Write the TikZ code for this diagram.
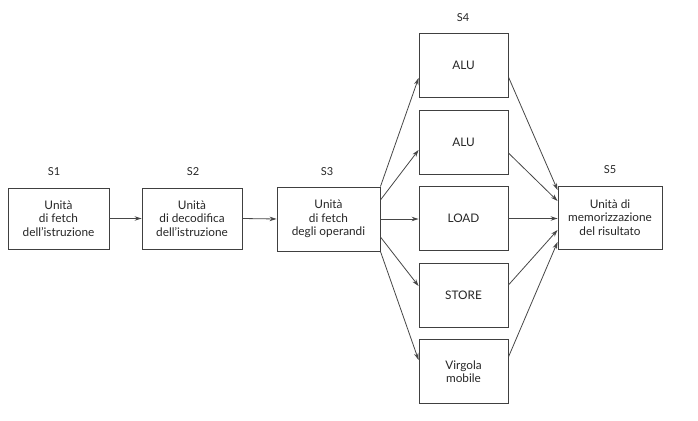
\documentclass[tikz,border=0pt]{standalone}
\usepackage{fontspec}
\setmainfont{Lato}
\usetikzlibrary{arrows.meta}
\begin{document}
\begin{tikzpicture}[x=1pt,y=-1pt,
  box/.style={draw=black!75,line width=0.9pt,rectangle,align=center,font=\fontsize{11.8}{13.5}\selectfont,text=black!85,inner sep=0pt},
  stage/.style={font=\fontsize{11}{12}\selectfont,text=black!85},
  conn/.style={draw=black!72,line width=0.8pt,-{Stealth[length=7pt,width=4.5pt]}}]
\useasboundingbox (0,0) rectangle (698,420);
% stage 1-3
\node[box,minimum width=101pt,minimum height=61pt] (s1) at (58.5,218.5) {Unità\\di fetch\\dell'istruzione};
\node[box,minimum width=100pt,minimum height=61pt] (s2) at (192,218.5) {Unità\\di decodifica\\dell'istruzione};
\node[box,minimum width=103pt,minimum height=64pt] (s3) at (328.5,219) {Unità\\di fetch\\degli operandi};
% stage 4
\node[box,minimum width=89pt,minimum height=64pt] (alu1) at (463.5,65) {ALU};
\node[box,minimum width=89pt,minimum height=64pt] (alu2) at (463.5,142) {ALU};
\node[box,minimum width=89pt,minimum height=64pt] (load) at (463.5,218.5) {LOAD};
\node[box,minimum width=89pt,minimum height=64pt] (store) at (463.5,295.5) {STORE};
\node[box,minimum width=89pt,minimum height=64pt] (virg) at (463.5,371.5) {Virgola\\mobile};
% stage 5
\node[box,minimum width=104pt,minimum height=63pt] (s5) at (610,217.5) {Unità di\\memorizzazione\\del risultato};
% labels
\node[stage] (l1) at (54,172) {S1};
\node[stage] (l2) at (193,172) {S2};
\node[stage] (l3) at (327,172) {S3};
\node[stage] (l4) at (463,18) {S4};
\node[stage] (l5) at (610,170) {S5};
% connectors
\draw[conn] (s1.east) -- (s2.west);
\draw[conn] (s2.east) -- (s3.west);
\draw[conn] (s3.north east) -- ([yshift=-13pt]alu1.west);
\draw[conn] ([yshift=19pt]s3.east) -- ([yshift=-8pt]alu2.west);
\draw[conn] (s3.east) -- (s3.east -| load.west);
\draw[conn] ([yshift=-18pt]s3.east) -- ([yshift=9.5pt]store.west);
\draw[conn] (s3.south east) -- ([yshift=11.5pt]virg.west);
\draw[conn] ([yshift=-12pt]alu1.east) -- ([yshift=27.5pt]s5.west);
\draw[conn] ([yshift=-11pt]alu2.east) -- ([yshift=16.5pt]s5.west);
\draw[conn] (load.east) -- (load.east -| s5.west);
\draw[conn] ([yshift=10.5pt]store.east) -- ([yshift=-12.5pt]s5.west);
\draw[conn] ([yshift=14.5pt]virg.east) -- ([yshift=-24.5pt]s5.west);
\end{tikzpicture}
\end{document}
